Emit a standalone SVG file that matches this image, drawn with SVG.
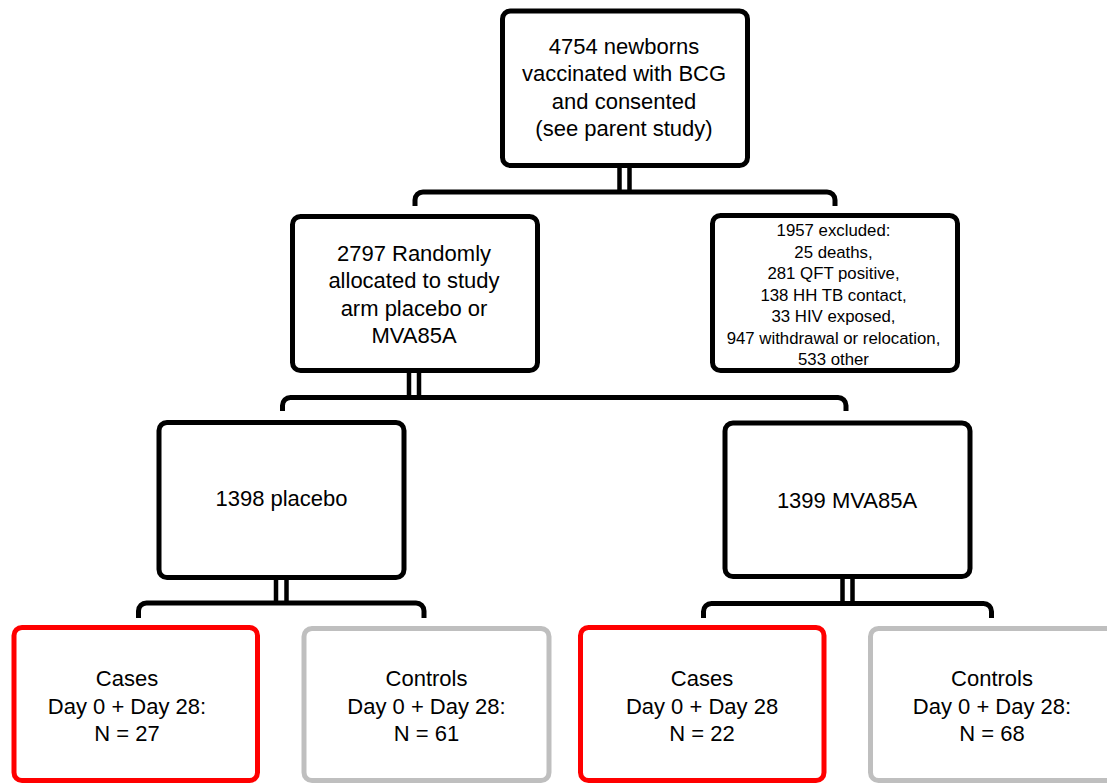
<svg xmlns="http://www.w3.org/2000/svg" width="1107" height="783" viewBox="0 0 1107 783">
<style>
.box{fill:#fff;stroke:#000;stroke-width:5}
.red{fill:#fff;stroke:#ff0000;stroke-width:5}
.gray{fill:#fff;stroke:#bfbfbf;stroke-width:5}
.conn{fill:none;stroke:#000;stroke-width:5}
.dbl{fill:none;stroke:#000;stroke-width:4.5}
text{font-family:"Liberation Sans",Arial,sans-serif;fill:#000;text-anchor:middle}
.t22{font-size:22px}
.t15{font-size:16.8px}
</style>
<rect width="1107" height="783" fill="#fff"/>
<g id="connectors">
<path class="dbl" d="M619.5 167V191M629.5 167V191"/>
<path class="conn" d="M415 206V200A8 8 0 0 1 423 192H827A8 8 0 0 1 835 200V206"/>
<path class="dbl" d="M409 372V396M419 372V396"/>
<path class="conn" d="M282.5 411V405.5A8 8 0 0 1 290.5 397.5H838A8 8 0 0 1 846 405.5V411"/>
<path class="dbl" d="M276 579V602M286.5 579V602"/>
<path class="conn" d="M138.5 618V611A8 8 0 0 1 146.5 603H416A8 8 0 0 1 424 611V618"/>
<path class="dbl" d="M842.5 578V602M852.5 578V602"/>
<path class="conn" d="M703.5 618V611.5A8 8 0 0 1 711.5 603.5H983.5A8 8 0 0 1 991.5 611.5V618"/>
</g>
<g id="n-newborns">
<rect class="box" x="502.5" y="11" width="245" height="154.5" rx="8"/>
<text class="t22" x="624"><tspan x="624" y="53.5">4754 newborns</tspan><tspan x="624" y="81">vaccinated with BCG</tspan><tspan x="624" y="108.5">and consented</tspan><tspan x="624" y="136">(see parent study)</tspan></text>
</g>
<g id="n-randomised">
<rect class="box" x="292.5" y="216.5" width="245" height="154" rx="8"/>
<text class="t22"><tspan x="414" y="261">2797 Randomly</tspan><tspan x="414" y="288.3">allocated to study</tspan><tspan x="414" y="315.5">arm placebo or</tspan><tspan x="414" y="342.7">MVA85A</tspan></text>
</g>
<g id="n-excluded">
<rect class="box" x="712.5" y="215.5" width="245" height="155" rx="8"/>
<text class="t15"><tspan x="833.5" y="236">1957 excluded:</tspan><tspan x="833.5" y="257.5">25 deaths,</tspan><tspan x="833.5" y="279">281 QFT positive,</tspan><tspan x="833.5" y="300.5">138 HH TB contact,</tspan><tspan x="833.5" y="322">33 HIV exposed,</tspan><tspan x="833.5" y="343.5">947 withdrawal or relocation,</tspan><tspan x="833.5" y="365">533 other</tspan></text>
</g>
<g id="n-placebo">
<rect class="box" x="159" y="422.5" width="245" height="155" rx="8"/>
<text class="t22" x="281.5" y="506">1398 placebo</text>
</g>
<g id="n-mva">
<rect class="box" x="725" y="423" width="245" height="153.5" rx="8"/>
<text class="t22" x="847" y="507.5">1399 MVA85A</text>
</g>
<g id="n-cases-placebo">
<rect class="red" x="14" y="627.5" width="243.5" height="153" rx="8"/>
<text class="t22"><tspan x="127" y="686">Cases</tspan><tspan x="127" y="713.5">Day 0 + Day 28:</tspan><tspan x="127" y="741">N = 27</tspan></text>
</g>
<g id="n-controls-placebo">
<rect class="gray" x="304" y="628.5" width="245" height="152" rx="8"/>
<text class="t22"><tspan x="426.5" y="686">Controls</tspan><tspan x="426.5" y="713.5">Day 0 + Day 28:</tspan><tspan x="426.5" y="741">N = 61</tspan></text>
</g>
<g id="n-cases-mva">
<rect class="red" x="580.5" y="627.5" width="243.5" height="153" rx="8"/>
<text class="t22"><tspan x="702" y="686">Cases</tspan><tspan x="702" y="713.5">Day 0 + Day 28</tspan><tspan x="702" y="741">N = 22</tspan></text>
</g>
<g id="n-controls-mva">
<rect class="gray" x="870.5" y="628.5" width="245" height="152" rx="8"/>
<text class="t22"><tspan x="992" y="686">Controls</tspan><tspan x="992" y="713.5">Day 0 + Day 28:</tspan><tspan x="992" y="741">N = 68</tspan></text>
</g>
</svg>
